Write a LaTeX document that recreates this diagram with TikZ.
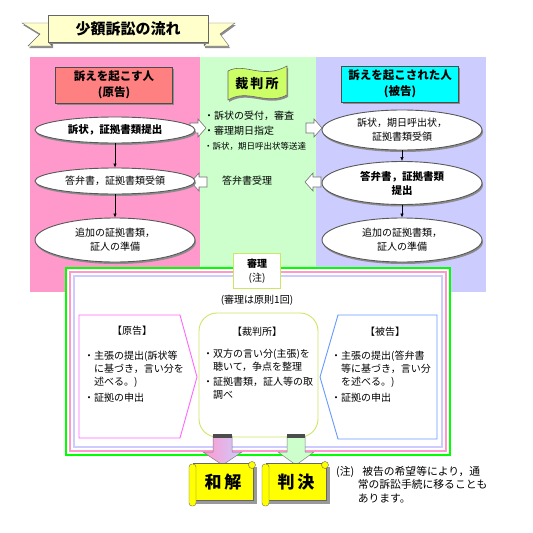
\documentclass[tikz,border=0pt]{standalone}
\usepackage{fontspec}
\setmainfont{Noto Sans CJK JP}
\usetikzlibrary{arrows.meta,positioning,shadows,shapes.geometric}
\definecolor{gencol}{RGB}{255,153,204}
\definecolor{crtcol}{RGB}{204,255,204}
\definecolor{hikcol}{RGB}{204,204,255}
\definecolor{genhead}{RGB}{255,128,128}
\definecolor{hikhead}{RGB}{0,255,255}
\definecolor{flagcol}{RGB}{204,255,102}
\definecolor{titlecol}{RGB}{255,255,204}
\definecolor{limecol}{RGB}{0,255,0}
\definecolor{olivecol}{RGB}{204,230,102}
\definecolor{magcol}{RGB}{255,102,255}
\definecolor{bluecol}{RGB}{102,153,255}
\definecolor{scrollcol}{RGB}{255,255,0}
\newcommand{\fsz}[2]{\fontsize{#1}{#2}\selectfont}

\begin{document}
\begin{tikzpicture}[x=1pt,y=-1pt,
  shd/.style={drop shadow={shadow xshift=1pt,shadow yshift=-2pt,fill=black!45,opacity=1}},
  oval/.style={ellipse,draw=black!65,fill=white,line width=0.9pt,align=center,inner sep=0pt,
    minimum width=160pt,font=\fsz{10}{14},shd},
  hdr/.style={draw=black!70,line width=0.6pt,align=center,minimum width=117pt,minimum height=36pt,
    font=\bfseries\fsz{11.5}{16},shd},
  txt/.style={align=left,anchor=north west,inner sep=0pt,font=\fsz{10}{12.8}},
  dn/.style={-{Latex[length=4pt,width=3.5pt]},line width=0.6pt}]
  \useasboundingbox (0,0) rectangle (533,533);
  % title ribbon
  \path[draw=black!60,fill=titlecol,shd] (52,23)--(22,23)--(40,34)--(28,46)--(52,46)--cycle;
  \path[draw=black!60,fill=titlecol,shd] (204,23)--(235,23)--(220,34)--(229,46)--(204,46)--cycle;
  \fill[black!60] (48,42)--(52,46)--(52,42)--cycle;
  \fill[black!60] (208,42)--(204,46)--(204,42)--cycle;
  \path[draw=black!60,fill=titlecol,shd] (48,15) rectangle (208,42);
  \node[font=\bfseries\fsz{15}{15}] (ttl) at (128,29) {少額訴訟の流れ};
  % three columns
  \fill[gencol] (30,57) rectangle (200,292);
  \fill[crtcol] (200,57) rectangle (316,292);
  \fill[hikcol] (316,57) rectangle (486,292);
  \node[hdr,fill=genhead] (gen) at (114,85) {訴えを起こす人\\(原告)};
  \node[hdr,fill=hikhead] (hik) at (400,84) {訴えを起こされた人\\(被告)};
  \path[draw=black!60,fill=flagcol,line width=0.6pt,shd] (228,71) .. controls (245,62) and (262,80) .. (287,66)
    -- (287,95) .. controls (266,106) and (248,88) .. (228,100) -- cycle;
  \node[font=\bfseries\fsz{13}{13}] (crt) at (257,84) {裁\,判\,所};
  \node[txt,font=\fsz{10}{15}] (c1) at (204,111) {・訴状の受付，審査\\・審理期日指定\\{\fsz{8.5}{15}・訴状，期日呼出状等送達}};
  \node[font=\fsz{10}{12}] (c2) at (247,181) {答弁書受理};
  % block arrows
  \foreach \x/\y/\s in {190/128/1,306/128/1,207/182/-1,321/182/-1}
    {\draw[black!55,fill=white,line width=0.6pt,shift={(\x,\y)},xscale=\s]
      (0,-5)--(8,-5)--(8,-9)--(16,0)--(8,9)--(8,5)--(0,5)--cycle;}
  % plaintiff / defendant steps
  \node[oval,minimum height=26pt,font=\bfseries\fsz{10.5}{14}] (g1) at (115,130) {訴状，証拠書類提出};
  \node[oval,minimum height=26pt] (g2) at (115,181) {答弁書，証拠書類受領};
  \node[oval,minimum height=44pt] (g3) at (115,240) {追加の証拠書類，\\証人の準備};
  \node[oval,minimum height=40pt] (h1) at (402,130) {訴状，期日呼出状，\\証拠書類受領};
  \node[oval,minimum height=43pt,font=\bfseries\fsz{10.5}{14}] (h2) at (402,183) {答弁書，証拠書類\\提出};
  \node[oval,minimum height=44pt] (h3) at (402,240) {追加の証拠書類，\\証人の準備};
  \foreach \a/\b in {g1/g2,g2/g3,h1/h2,h2/h3}
    {\draw[dn] (\a) -- (\b);}
  % hearing frame
  \draw[limecol,line width=2pt,fill=white] (66,268) rectangle (450,455);
  \foreach \d/\c in {4/gencol,8/hikcol}
    {\draw[\c,line width=1.5pt] (66+\d,268+\d) rectangle (450-\d,455-\d);}
  \node[draw=olivecol,line width=1.5pt,fill=white,minimum width=47pt,minimum height=35pt,
    align=center,font=\fsz{10}{14}] (shinri) at (257,271) {\textbf{審理}\\(注)};
  \node[font=\fsz{10}{12}] (kaisu) at (257,300) {(審理は原則1回)};
  \draw[magcol,line width=0.9pt] (79,315)--(180,315)--(197,377)--(180,438)--(79,438)--cycle;
  \draw[olivecol,line width=0.9pt,rounded corners=18pt] (199,313) rectangle (318,437);
  \draw[bluecol,line width=0.9pt] (437,315)--(338,315)--(320,377)--(338,439)--(437,439)--cycle;
  \node[font=\fsz{10}{12}] (gh) at (132,331) {【原告】};
  \node[txt] (gb) at (84,351) {・主張の提出(訴状等\\　に基づき，言い分を\\　述べる。)\\[3pt]・証拠の申出};
  \node[font=\fsz{10}{12}] (ch) at (257,332) {【裁判所】};
  \node[txt] (cb) at (203,349) {・双方の言い分(主張)を\\　聴いて，争点を整理\\[2pt]・証拠書類，証人等の取\\　調べ};
  \node[font=\fsz{10}{12}] (hh) at (385,332) {【被告】};
  \node[txt] (hb) at (331,351) {・主張の提出(答弁書\\　等に基づき，言い分\\　を述べる。)\\[3pt]・証拠の申出};
  % outcome arrows and scrolls
  \path[draw=black!50,line width=0.5pt,left color=gencol,right color=hikcol]
    (213,436)--(232,436)--(232,452)--(242,452)--(222.5,465)--(203,452)--(213,452)--cycle;
  \fill[black!70] (213,434) rectangle (232,438);
  \path[draw=black!50,line width=0.5pt,fill=crtcol]
    (287,436)--(305,436)--(305,452)--(314,452)--(296,465)--(278,452)--(287,452)--cycle;
  \fill[black!70] (287,434) rectangle (305,438);
  \foreach \cx/\txt/\nm in {222/{和\,解}/wa,295/{判\,決}/han}{
    \fill[black!40] (\cx-27,467) rectangle (\cx+35,504);
    \draw[black!60,fill=scrollcol] (\cx-29,463) rectangle (\cx+31,500);
    \draw[black!60,fill=scrollcol,rounded corners=3pt] (\cx-33,464) rectangle (\cx-26,506);
    \draw[black!60,fill=scrollcol] (\cx+30,465) circle (3.5);
    \node[font=\bfseries\fsz{17}{17}] (\nm) at (\cx+1,482) {\txt};
  }
  \node[anchor=north west,align=left,inner sep=0pt,font=\fsz{10.8}{13.5}] (note) at (336,466)
    {(注)\hspace{8pt}被告の希望等により，通\\\hspace*{21.6pt}常の訴訟手続に移ることも\\\hspace*{21.6pt}あります。};
\end{tikzpicture}
\end{document}
